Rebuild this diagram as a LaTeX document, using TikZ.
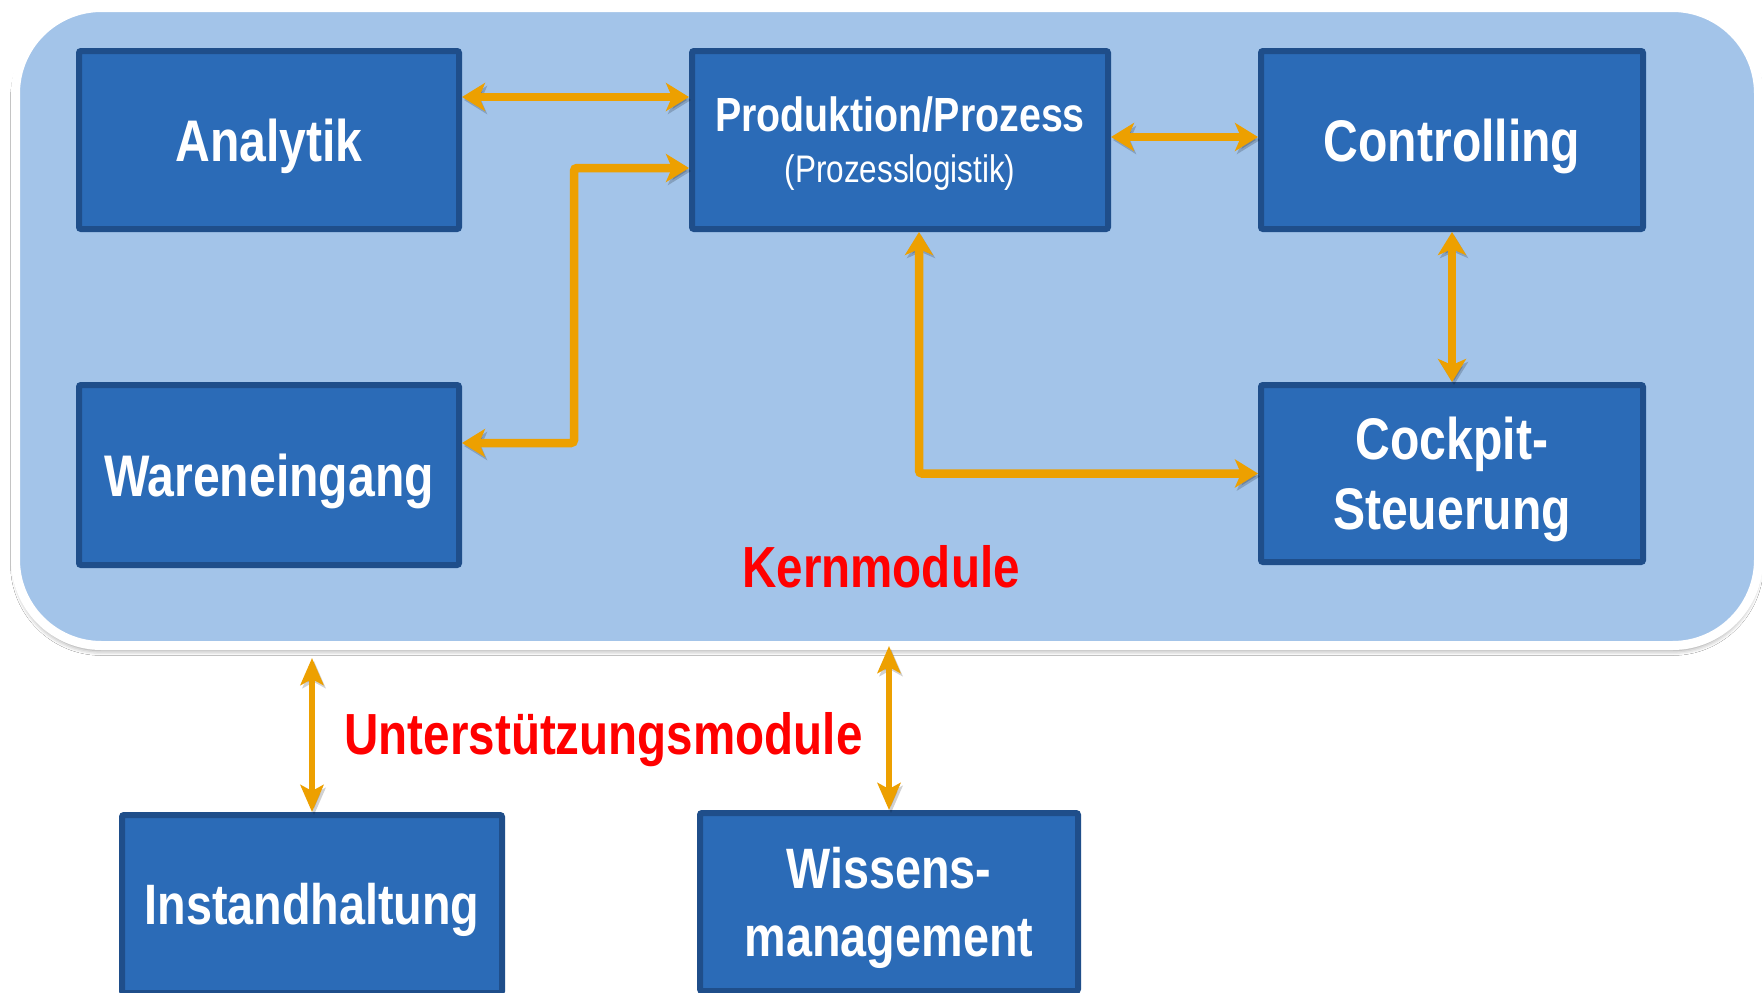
\documentclass[tikz,border=0pt]{standalone}
\usepackage{fontspec}
\setmainfont{Liberation Sans}[FakeStretch=0.82]
\usetikzlibrary{arrows.meta,calc,shadows.blur}

\definecolor{panelblue}{HTML}{A3C4E9}
\definecolor{boxblue}{HTML}{2B6BB7}
\definecolor{boxedge}{HTML}{1F4E8A}
\definecolor{linkorange}{HTML}{EDA000}
\definecolor{labelred}{HTML}{FF0000}

\tikzset{
  panel/.style={draw=white, line width=9pt, fill=panelblue, rounded corners=86pt,
    minimum width=1743pt, minimum height=638pt, inner sep=0pt,
    blur shadow={shadow xshift=0pt, shadow yshift=-5pt, shadow blur radius=5pt, shadow opacity=45}},
  module/.style={draw=boxedge, fill=boxblue, line width=6pt, rounded corners=2pt,
    minimum width=380pt, minimum height=178pt, inner sep=0pt, text=white, align=center,
    text depth=0pt, font=\fontsize{58.7}{70}\selectfont\bfseries},
  lowmodule/.style={module, font=\fontsize{57}{68}\selectfont\bfseries},
  tipbig/.tip={Stealth[length=23pt, width=28pt, inset=6pt]},
  tipsmall/.tip={Stealth[length=27pt, width=23pt, inset=6pt]},
  link/.style={draw=linkorange, line width=8.5pt, tipbig-tipbig, rounded corners=3pt,
    preaction={draw=black, opacity=0.18, transform canvas={shift={(2pt,-3pt)}}}},
  linksmall/.style={link, line width=6.5pt, tipsmall-tipsmall},
  grouplabel/.style={text=labelred, font=\fontsize{58}{58}\selectfont\bfseries, anchor=base, inner sep=0pt}
}

\begin{document}
\begin{tikzpicture}[x=1pt, y=-1pt]
  \useasboundingbox (0,0) rectangle (1762,993);
  \clip (0,0) rectangle (1762,993);
  \fill[white] (0,0) rectangle (1762,993);

  % container for the core modules
  \node[panel] (kern) at (887,326.5) {};

  % core modules
  \node[module] (ana) at (269,140) {Analytik};
  \node[module, minimum width=416pt, font=\fontsize{48}{51}\selectfont\bfseries] (prod) at (900,140)
    {Produktion/Prozess\\{\fontsize{38.4}{51}\selectfont\mdseries(Prozesslogistik)}};
  \node[module, minimum width=382pt] (ctrl) at (1452,140) {Controlling};
  \node[module, minimum height=180pt] (ware) at (269,475) {Wareneingang};
  \node[module, minimum width=382pt, minimum height=177pt] (cock) at (1452,473.5) {Cockpit-\\Steuerung};

  % support modules
  \node[lowmodule] (inst) at (312,904) {Instandhaltung};
  \node[lowmodule, minimum width=378pt] (wiss) at (889,902) {Wissens-\\management};

  % labels
  \node[grouplabel] (kernlbl) at (881,587) {Kernmodule};
  \node[grouplabel] (ulbl) at (603.5,754) {Unterstützungsmodule};

  % connections between the core modules
  \coordinate (bend) at (574,168);
  \draw[link] ([yshift=43pt]ana.east) -- ([yshift=43pt]prod.west);
  \draw[link] ([yshift=32pt]ware.east) -| (bend) -- ([yshift=-28pt]prod.west);
  \draw[link] ([yshift=3pt]prod.east) -- ([yshift=3pt]ctrl.west);
  \draw[link] ([xshift=19pt]prod.south) |- (cock.west);
  \draw[link] (ctrl.south) -- (cock.north);

  % connections to the support modules
  \coordinate (instup) at ($(inst.north |- kern.south)+(0,8)$);
  \coordinate (wissup) at ($(wiss.north |- kern.south)+(0,-4)$);
  \draw[linksmall] (instup) -- (inst.north);
  \draw[linksmall] (wissup) -- (wiss.north);
\end{tikzpicture}
\end{document}
